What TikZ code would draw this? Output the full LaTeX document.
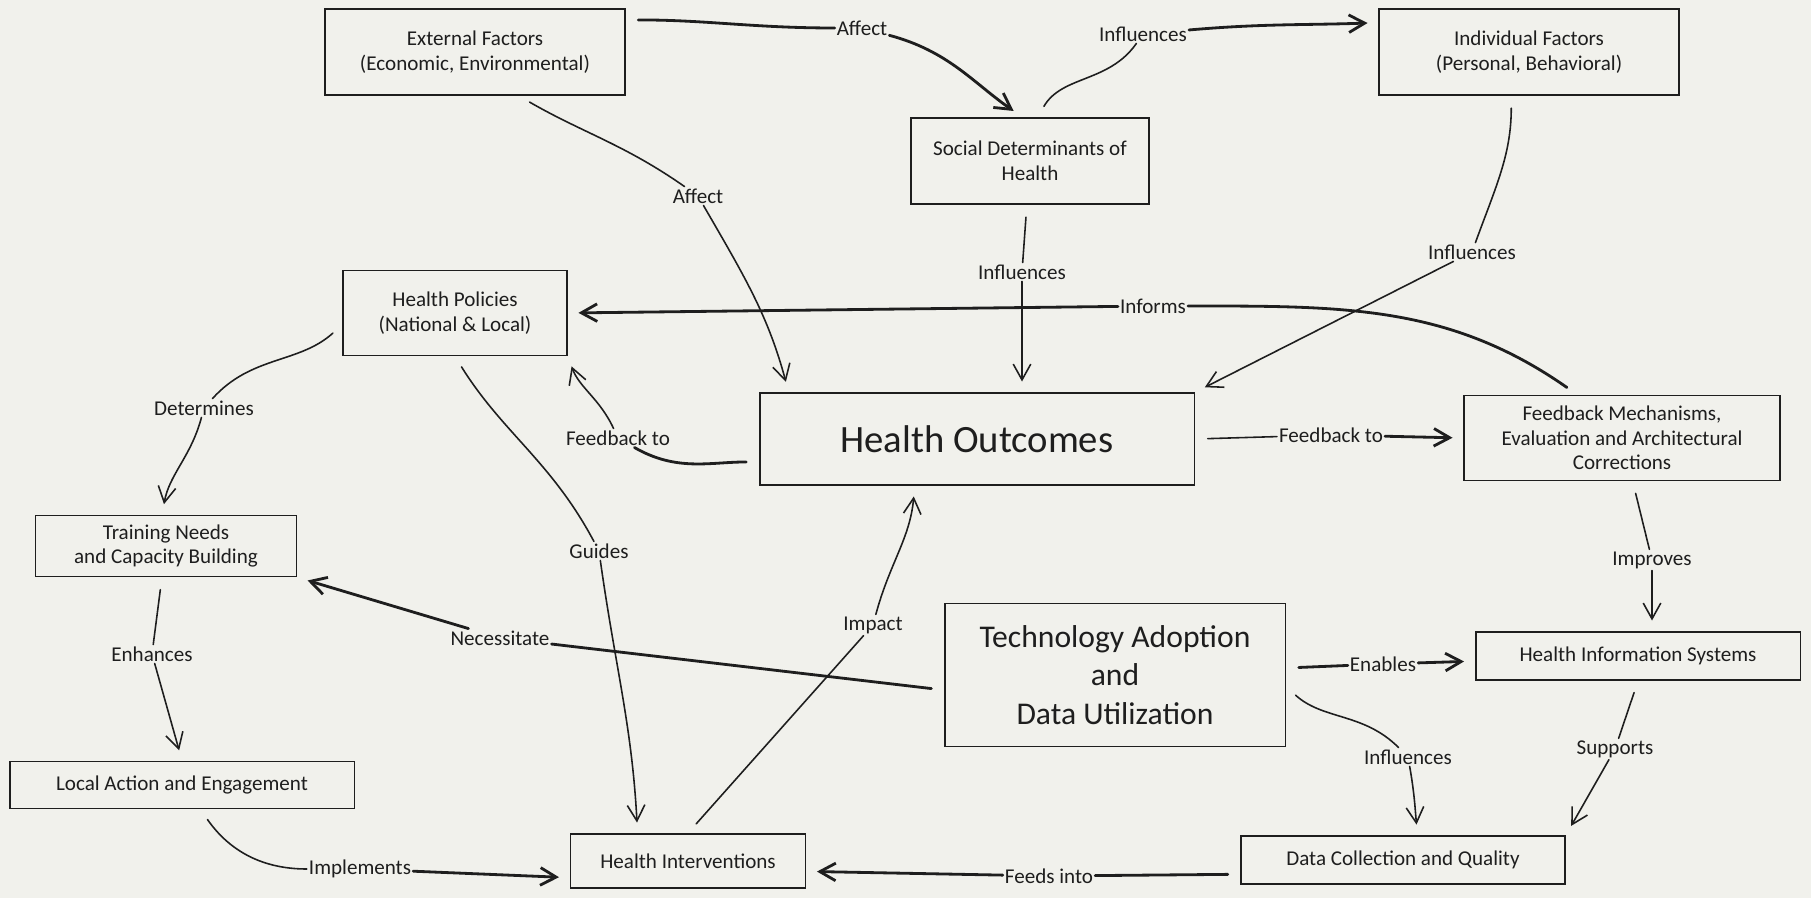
\documentclass[tikz,border=0pt]{standalone}
\usepackage{fontspec}
\setmainfont{Carlito}
\usepackage{xcolor}
\usepackage{tikz}
\usetikzlibrary{arrows.meta,positioning,calc}
\definecolor{paper}{RGB}{241,241,236}
\definecolor{ink}{RGB}{30,30,30}

\begin{document}
\begin{tikzpicture}[x=0.02cm, y=-0.02cm,
    box/.style={draw=ink, line width=1.1pt, align=center, inner sep=0pt, text=ink, font=\fontsize{12}{14}\selectfont},
    lbl/.style={fill=paper, inner sep=1pt, text=ink, font=\fontsize{12}{14}\selectfont},
    wire/.style={draw=ink, line width=0.9pt, line cap=round, shorten <=7pt},
    link/.style={draw=ink, line width=0.9pt, line cap=round, shorten >=6pt, -{Straight Barb[length=9pt,width=10pt]}},
    heavy/.style={line width=1.6pt}]
    \fill[paper] (0,0) rectangle (1811,898);
    \useasboundingbox (0,0) rectangle (1811,898);

    % boxes
    \node[box, minimum width=6cm, minimum height=1.72cm] (ext) at (475,52) {External Factors\\(Economic, Environmental)};
    \node[box, minimum width=6cm, minimum height=1.72cm] (ind) at (1529,52) {Individual Factors\\(Personal, Behavioral)};
    \node[box, minimum width=4.76cm, minimum height=1.72cm] (sdh) at (1030,161) {Social Determinants of\\Health};
    \node[box, minimum width=4.48cm, minimum height=1.7cm] (pol) at (455,313) {Health Policies\\(National \& Local)};
    \node[box, minimum width=8.7cm, minimum height=1.84cm, font=\fontsize{22}{26}\selectfont] (hout) at (977,439) {Health Outcomes};
    \node[box, minimum width=6.32cm, minimum height=1.7cm] (fbm) at (1622,438) {Feedback Mechanisms,\\Evaluation and Architectural\\Corrections};
    \node[box, minimum width=5.22cm, minimum height=1.22cm] (trn) at (166,546) {Training Needs\\and Capacity Building};
    \node[box, minimum width=6.9cm, minimum height=0.94cm] (loc) at (182,785) {Local Action and Engagement};
    \node[box, minimum width=4.7cm, minimum height=1.08cm] (itv) at (688,861) {Health Interventions};
    \node[box, minimum width=6.82cm, minimum height=2.86cm, font=\fontsize{18}{22}\selectfont] (tech) at (1115,675) {Technology Adoption\\and\\Data Utilization};
    \node[box, minimum width=6.5cm, minimum height=0.96cm] (his) at (1638,656) {Health Information Systems};
    \node[box, minimum width=6.48cm, minimum height=0.96cm] (dcq) at (1403,860) {Data Collection and Quality};

    % edge labels
    \node[lbl] (aff1) at (862,28) {Affect};
    \node[lbl] (inf1) at (1143,34) {Influences};
    \node[lbl] (aff2) at (698,196) {Affect};
    \node[lbl] (inf2) at (1022,272) {Influences};
    \node[lbl] (inf3) at (1472,252) {Influences};
    \node[lbl] (infm) at (1153,306) {Informs};
    \node[lbl] (fdb1) at (618,438) {Feedback to};
    \node[lbl] (fdb2) at (1331,435) {Feedback to};
    \node[lbl] (det) at (204,408) {Determines};
    \node[lbl] (gui) at (599,551) {Guides};
    \node[lbl] (enh) at (152,654) {Enhances};
    \node[lbl] (nec) at (500,638) {Necessitate};
    \node[lbl] (imp) at (360,869) {Implements};
    \node[lbl] (ipc) at (873,625) {Impact};
    \node[lbl] (ena) at (1383,664) {Enables};
    \node[lbl] (inf4) at (1408,757) {Influences};
    \node[lbl] (imv) at (1652,560) {Improves};
    \node[lbl] (sup) at (1615,749) {Supports};
    \node[lbl] (fin) at (1049,876) {Feeds into};

    % connectors: box to label, then label to box
    \draw[wire, heavy] (ext.12) to[out=0,in=180] (aff1);
    \draw[link, heavy] (aff1) to[out=-15,in=145] (sdh.100);
    \draw[wire] (sdh.80) to[out=60,in=235] (inf1);
    \draw[link, heavy] (inf1) to[out=5,in=182] (ind.169);
    \draw[wire] (ext.-45) to[out=-30,in=145] (aff2);
    \draw[link] (aff2) to[out=-60,in=105] (hout.166);
    \draw[wire] (sdh) -- (inf2);
    \draw[link] (inf2) -- (inf2 |- hout.north);
    \draw[wire] (ind.-112) to[out=-90,in=70] (inf3);
    \draw[link] (inf3) -- (hout.north east);
    \draw[wire, heavy] (fbm.136) to[out=145,in=0] (infm);
    \draw[link, heavy] (infm) -- (pol.east);
    \draw[wire, heavy] (hout.186) to[out=180,in=-30] (fdb1);
    \draw[link] (fdb1) to[out=115,in=-70] (pol.south east);
    \draw[wire] (hout.east) -- (fdb2);
    \draw[link, heavy] (fdb2) -- (fbm.west);
    \draw[wire] (pol.186) to[out=222,in=48] (det);
    \draw[link] (det) to[out=-105,in=80] (trn.97);
    \draw[wire] (pol.south) to[out=-58,in=118] (gui);
    \draw[link] (gui) to[out=-82,in=93] (itv.151);
    \draw[wire] (trn) -- (enh);
    \draw[link] (enh) -- (loc.north);
    \draw[wire, heavy] (tech.185) -- (nec);
    \draw[link, heavy] (nec) -- (trn.south east);
    \draw[wire] (loc.-53) to[out=-55,in=180] (imp);
    \draw[link, heavy] (imp) -- (itv.188);
    \draw[wire] (itv.north) -- (ipc);
    \draw[link] (ipc) to[out=75,in=-95] (hout.-143);
    \draw[wire, heavy] (tech) -- (ena);
    \draw[link, heavy] (ena) -- (his);
    \draw[wire] (tech.-4) to[out=-42,in=135] (inf4);
    \draw[link] (inf4) to[out=-80,in=95] (dcq.60);
    \draw[wire] (fbm) -- (imv);
    \draw[link] (imv) -- (his.north -| imv);
    \draw[wire] (his.south) -- (sup);
    \draw[link] (sup) -- (dcq.north east);
    \draw[wire, heavy] (dcq.185) -- (fin);
    \draw[link, heavy] (fin) -- (itv.-5);
\end{tikzpicture}
\end{document}
